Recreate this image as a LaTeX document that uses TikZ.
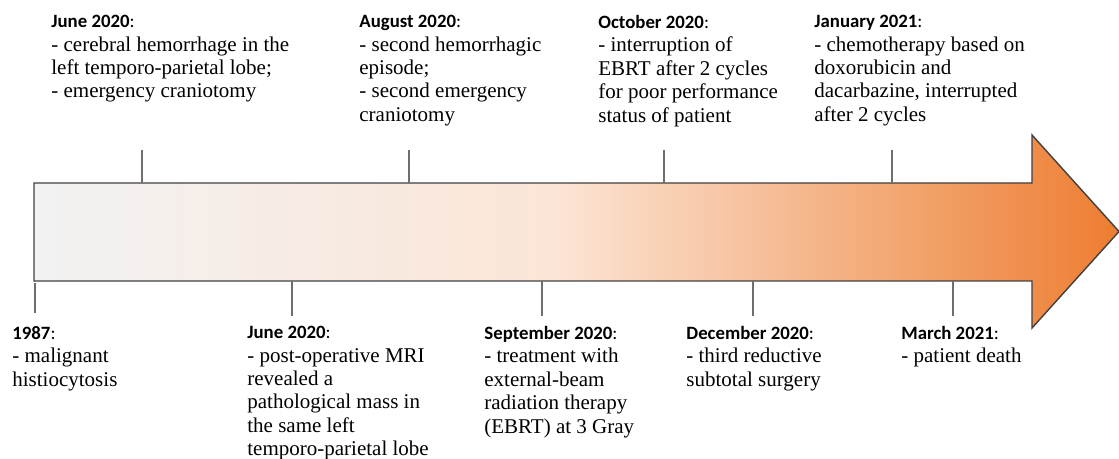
\documentclass[tikz,border=0pt]{standalone}
\usepackage{fontspec}
\setmainfont{Liberation Serif}
\newfontfamily\headfont{Carlito}
\usepackage{tikz}
\usetikzlibrary{calc}

\definecolor{startgray}{RGB}{242,242,242}
\definecolor{midpeach}{RGB}{251,229,214}
\definecolor{endorange}{RGB}{237,125,49}
\definecolor{framegray}{RGB}{64,64,64}
\definecolor{tickgray}{RGB}{110,110,110}

\pgfdeclarehorizontalshading{timeline}{100bp}{color(0bp)=(startgray); color(25bp)=(startgray);
  color(49bp)=(midpeach); color(75bp)=(endorange); color(100bp)=(endorange)}

\newcommand{\evdate}[1]{{\headfont\fontsize{9.4}{11.7}\selectfont\textbf{#1}:}}

\tikzset{
  event/.style={anchor=north west, align=left, inner sep=0pt, font=\fontsize{10.5}{11.7}\selectfont},
  tick/.style={draw=tickgray, line width=0.55pt},
}

\begin{document}
\begin{tikzpicture}[x=0.5pt, y=-0.5pt]
    \useasboundingbox (0,0) rectangle (1119,459);

    % the time arrow
    \shadedraw[shading=timeline, draw=framegray, line width=0.7pt]
        (34,183) coordinate (top) -- (1032,183) -- (1032,135) -- (1119,231.5)
        -- (1032,328) -- (1032,281) -- (34,281) coordinate (bot) -- cycle;

    % events above
    \node[event] (jun20a) at (51,15) {\evdate{June 2020}\\- cerebral hemorrhage in the\\left temporo-parietal lobe;\\- emergency craniotomy};
    \node[event] (aug20) at (359,15) {\evdate{August 2020}\\- second hemorrhagic\\episode;\\- second emergency\\craniotomy};
    \node[event] (oct20) at (598,15) {\evdate{October 2020}\\- interruption of\\EBRT after 2 cycles\\for poor performance\\status of patient};
    \node[event] (jan21) at (814,15) {\evdate{January 2021}\\- chemotherapy based on\\doxorubicin and\\dacarbazine, interrupted\\after 2 cycles};

    % events below
    \node[event] (y1987) at (12,326) {\evdate{1987}\\- malignant\\histiocytosis};
    \node[event] (jun20b) at (247,326) {\evdate{June 2020}\\- post-operative MRI\\revealed a\\pathological mass in\\the same left\\temporo-parietal lobe};
    \node[event] (sep20) at (484,326) {\evdate{September 2020}\\- treatment with\\external-beam\\radiation therapy\\(EBRT) at 3 Gray};
    \node[event] (dec20) at (686,326) {\evdate{December 2020}\\- third reductive\\subtotal surgery};
    \node[event] (mar21) at (901,326) {\evdate{March 2021}\\- patient death};

    % ticks
    \coordinate (jun20a tick) at (142,150);
    \coordinate (aug20 tick) at (409,150);
    \coordinate (oct20 tick) at (664,150);
    \coordinate (jan21 tick) at (892,150);
    \draw[tick] (jun20a tick) -- (jun20a tick |- top);
    \draw[tick] (aug20 tick) -- (aug20 tick |- top);
    \draw[tick] (oct20 tick) -- (oct20 tick |- top);
    \draw[tick] (jan21 tick) -- (jan21 tick |- top);

    \coordinate (y1987 tick) at (35,313);
    \coordinate (jun20b tick) at (292,316);
    \coordinate (sep20 tick) at (542,316);
    \coordinate (dec20 tick) at (753,316);
    \coordinate (mar21 tick) at (953,316);
    \draw[tick] (y1987 tick) -- ($(y1987 tick |- bot)+(0,2)$);
    \draw[tick] (jun20b tick) -- (jun20b tick |- bot);
    \draw[tick] (sep20 tick) -- (sep20 tick |- bot);
    \draw[tick] (dec20 tick) -- (dec20 tick |- bot);
    \draw[tick] (mar21 tick) -- (mar21 tick |- bot);
\end{tikzpicture}
\end{document}
